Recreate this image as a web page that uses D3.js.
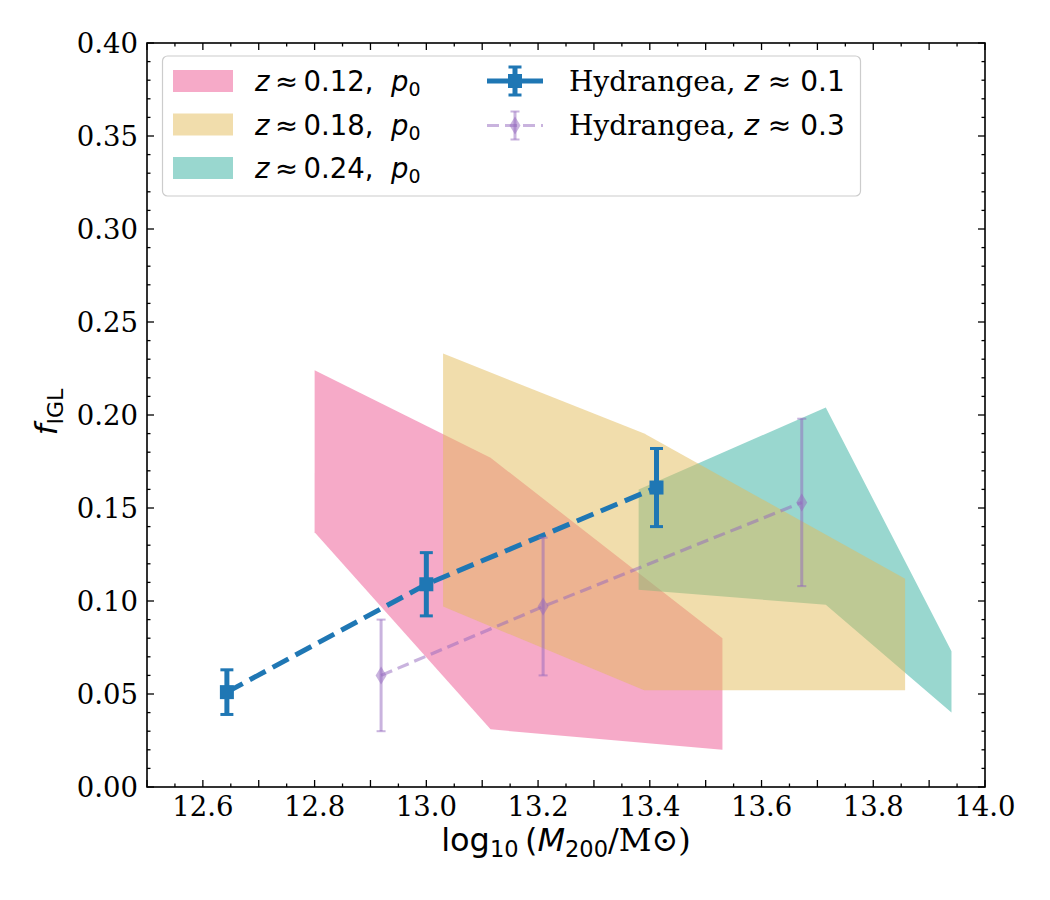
<!DOCTYPE html>
<html><head><meta charset="utf-8">
<script src="https://cdn.jsdelivr.net/npm/d3@7"></script>
<style>body{margin:0;background:#fff}</style>
</head><body>
<svg id="c" width="1050" height="900"></svg>
<script>
// ---- data ----
const xTicks = [12.6, 12.8, 13.0, 13.2, 13.4, 13.6, 13.8, 14.0];
const yTicks = [0.00, 0.05, 0.10, 0.15, 0.20, 0.25, 0.30, 0.35, 0.40];

const pinkX  = [12.80, 13.115, 13.53];
const pinkLo = [0.137, 0.031, 0.020];
const pinkHi = [0.224, 0.177, 0.080];

const yellowX  = [13.03, 13.39, 13.857];
const yellowLo = [0.097, 0.052, 0.052];
const yellowHi = [0.233, 0.190, 0.112];

const tealX  = [13.38, 13.715, 13.94];
const tealLo = [0.106, 0.098, 0.040];
const tealHi = [0.160, 0.204, 0.073];

const hyd01X = [12.643, 13.000, 13.412];
const hyd01Y = [0.051, 0.109, 0.161];
const hyd01E = [0.012, 0.017, 0.021];

const hyd03X = [12.919, 13.209, 13.672];
const hyd03Y = [0.060, 0.097, 0.153];
const hyd03E = [0.030, 0.037, 0.045];

const bandLabels = ["0.12", "0.18", "0.24"];
const hydLabels = ["0.1", "0.3"];

// ---- setup ----
const svg = d3.select("#c");
const L = 147, R = 985, T = 43, B = 787;
const x = d3.scaleLinear().domain([12.5, 14.0]).range([L, R]);
const y = d3.scaleLinear().domain([0, 0.4]).range([B, T]);

const SERIF = "'DejaVu Serif', serif";
const SANS = "'DejaVu Sans', sans-serif";
const NB = "\u00a0";

const bands = [
  {X: pinkX, lo: pinkLo, hi: pinkHi, color: "#ed5591", order: 0},
  {X: yellowX, lo: yellowLo, hi: yellowHi, color: "#e3bb59", order: 2},
  {X: tealX, lo: tealLo, hi: tealHi, color: "#33af9f", order: 1}
];
const FILL_OP = 0.5;

const area = d3.area().x(d => x(d[0])).y0(d => y(d[1])).y1(d => y(d[2]));
bands.slice().sort((a, b) => a.order - b.order).forEach(b => {
  const pts = b.X.map((v, i) => [v, b.lo[i], b.hi[i]]);
  svg.append("path").attr("d", area(pts)).attr("fill", b.color).attr("fill-opacity", FILL_OP);
});

// ---- Hydrangea z~0.1 ----
const blue = "#1f77b4";
const line = d3.line().x(d => x(d[0])).y(d => y(d[1]));
const h1 = hyd01X.map((v, i) => [v, hyd01Y[i], hyd01E[i]]);
const g1 = svg.append("g");
g1.append("path").attr("d", line(h1)).attr("fill", "none").attr("stroke", blue)
  .attr("stroke-width", 5).attr("stroke-dasharray", "18,8");
h1.forEach(d => {
  const cx = x(d[0]);
  g1.append("line").attr("x1", cx).attr("x2", cx).attr("y1", y(d[1] - d[2])).attr("y2", y(d[1] + d[2]))
    .attr("stroke", blue).attr("stroke-width", 5);
  [d[1] - d[2], d[1] + d[2]].forEach(v => {
    g1.append("line").attr("x1", cx - 6.5).attr("x2", cx + 6.5).attr("y1", y(v)).attr("y2", y(v))
      .attr("stroke", blue).attr("stroke-width", 3);
  });
  g1.append("rect").attr("x", cx - 7).attr("y", y(d[1]) - 7).attr("width", 14).attr("height", 14).attr("fill", blue);
});

// ---- Hydrangea z~0.3 ----
const purple = "#9467bd";
const POP = 0.5;
const h3 = hyd03X.map((v, i) => [v, hyd03Y[i], hyd03E[i]]);
const g3 = svg.append("g");
g3.append("path").attr("d", line(h3)).attr("fill", "none").attr("stroke", purple).attr("stroke-opacity", POP)
  .attr("stroke-width", 3.2).attr("stroke-dasharray", "12,6");
h3.forEach(d => {
  const cx = x(d[0]);
  g3.append("line").attr("x1", cx).attr("x2", cx).attr("y1", y(d[1] - d[2])).attr("y2", y(d[1] + d[2]))
    .attr("stroke", purple).attr("stroke-width", 3).attr("stroke-opacity", POP);
  [d[1] - d[2], d[1] + d[2]].forEach(v => {
    g3.append("line").attr("x1", cx - 4.5).attr("x2", cx + 4.5).attr("y1", y(v)).attr("y2", y(v))
      .attr("stroke", purple).attr("stroke-width", 2).attr("stroke-opacity", POP);
  });
  const cy = y(d[1]);
  g3.append("path").attr("d", `M${cx},${cy - 9}L${cx + 5.5},${cy}L${cx},${cy + 9}L${cx - 5.5},${cy}Z`)
    .attr("fill", purple).attr("fill-opacity", POP);
});

// ---- axes ----
const ax = svg.append("g");
ax.append("rect").attr("x", L).attr("y", T).attr("width", R - L).attr("height", B - T)
  .attr("fill", "none").attr("stroke", "#000").attr("stroke-width", 1.6);

const xMinor = d3.range(12.5, 14.0001, 0.05);
const yMinor = d3.range(0, 0.4001, 0.01);
function tk(x1, y1, x2, y2, w) {
  ax.append("line").attr("x1", x1).attr("y1", y1).attr("x2", x2).attr("y2", y2)
    .attr("stroke", "#000").attr("stroke-width", w);
}
xMinor.forEach(v => {
  const isMaj = Math.abs(Math.round(v * 10) - v * 10) < 1e-6;
  const len = isMaj ? 7 : 3.5;
  const px = x(v);
  tk(px, B, px, B - len, 1.3);
  tk(px, T, px, T + len, 1.3);
});
yMinor.forEach(v => {
  const isMaj = Math.abs(Math.round(v * 20) - v * 20) < 1e-6;
  const len = isMaj ? 7 : 3.5;
  const py = y(v);
  tk(L, py, L + len, py, 1.3);
  tk(R, py, R - len, py, 1.3);
});

xTicks.forEach(v => {
  ax.append("text").attr("x", x(v)).attr("y", B + 29).attr("text-anchor", "middle")
    .attr("font-family", SERIF).attr("font-size", 27.5).text(d3.format(".1f")(v));
});
yTicks.forEach(v => {
  ax.append("text").attr("x", L - 9).attr("y", y(v) + 10).attr("text-anchor", "end")
    .attr("font-family", SERIF).attr("font-size", 27.5).text(d3.format(".2f")(v));
});

// x label
const XFS = 32, XSUB = 22.5;
const xl = svg.append("text").attr("x", (L + R) / 2).attr("y", 851).attr("text-anchor", "middle")
  .attr("font-size", XFS).attr("font-family", SANS);
xl.append("tspan").text("log");
xl.append("tspan").attr("font-size", XSUB).attr("dy", 6).text("10");
xl.append("tspan").attr("dy", -6).text("\u2009(");
xl.append("tspan").attr("font-style", "italic").text("M");
xl.append("tspan").attr("font-size", XSUB).attr("dy", 6).text("200");
xl.append("tspan").attr("dy", -6).attr("font-family", SERIF).text("/M\u2299)");

// y label
const yl = svg.append("text").attr("transform", "translate(57,412) rotate(-90)").attr("text-anchor", "middle")
  .attr("font-size", 31).attr("font-family", SANS);
yl.append("tspan").attr("font-style", "italic").text("f");
yl.append("tspan").attr("font-size", 22).attr("dy", 6).text("IGL");

// ---- legend ----
const lg = svg.append("g");
lg.append("rect").attr("x", 162.5).attr("y", 56).attr("width", 698).attr("height", 140).attr("rx", 5)
  .attr("fill", "#fff").attr("fill-opacity", 0.8).attr("stroke", "#cccccc").attr("stroke-width", 1.2);
const rows = [81, 124.5, 168];
const LFS = 27.5;
bands.forEach((b, i) => {
  lg.append("rect").attr("x", 173).attr("y", rows[i] - 11).attr("width", 60).attr("height", 22)
    .attr("fill", b.color).attr("fill-opacity", FILL_OP);
  const t = lg.append("text").attr("x", 255).attr("y", rows[i] + 10).attr("font-family", SANS).attr("font-size", LFS);
  t.append("tspan").attr("font-style", "italic").text("z");
  t.append("tspan").text("\u2009\u2248\u2009" + bandLabels[i] + "," + NB + NB);
  t.append("tspan").attr("font-style", "italic").text("p");
  t.append("tspan").attr("font-size", 19).attr("dy", 5).text("0");
});
// blue handle
{
  const cy = rows[0], cx = 515;
  lg.append("line").attr("x1", 487).attr("x2", 543).attr("y1", cy).attr("y2", cy).attr("stroke", blue).attr("stroke-width", 5);
  lg.append("line").attr("x1", cx).attr("x2", cx).attr("y1", cy - 14).attr("y2", cy + 14).attr("stroke", blue).attr("stroke-width", 5);
  [cy - 14, cy + 14].forEach(v => lg.append("line").attr("x1", cx - 6.5).attr("x2", cx + 6.5).attr("y1", v).attr("y2", v).attr("stroke", blue).attr("stroke-width", 3));
  lg.append("rect").attr("x", cx - 7).attr("y", cy - 7).attr("width", 14).attr("height", 14).attr("fill", blue);
}
// purple handle
{
  const cy = 125.5, cx = 515;
  lg.append("line").attr("x1", 487).attr("x2", 543).attr("y1", cy).attr("y2", cy).attr("stroke", purple)
    .attr("stroke-opacity", POP).attr("stroke-width", 3.2).attr("stroke-dasharray", "12,6");
  lg.append("line").attr("x1", cx).attr("x2", cx).attr("y1", cy - 14).attr("y2", cy + 14).attr("stroke", purple).attr("stroke-opacity", POP).attr("stroke-width", 3);
  [cy - 14, cy + 14].forEach(v => lg.append("line").attr("x1", cx - 4.5).attr("x2", cx + 4.5).attr("y1", v).attr("y2", v).attr("stroke", purple).attr("stroke-opacity", POP).attr("stroke-width", 2));
  lg.append("path").attr("d", `M${cx},${cy - 9}L${cx + 5.5},${cy}L${cx},${cy + 9}L${cx - 5.5},${cy}Z`).attr("fill", purple).attr("fill-opacity", POP);
}
hydLabels.forEach((z, i) => {
  const t = lg.append("text").attr("x", 569).attr("y", rows[i] + 10).attr("font-size", 28);
  t.append("tspan").attr("font-family", SERIF).text("Hydrangea," + NB);
  t.append("tspan").attr("font-family", SANS).attr("font-style", "italic").text("z");
  t.append("tspan").attr("font-family", SANS).text(NB + "\u2248" + NB + z);
});
</script>
</body></html>
